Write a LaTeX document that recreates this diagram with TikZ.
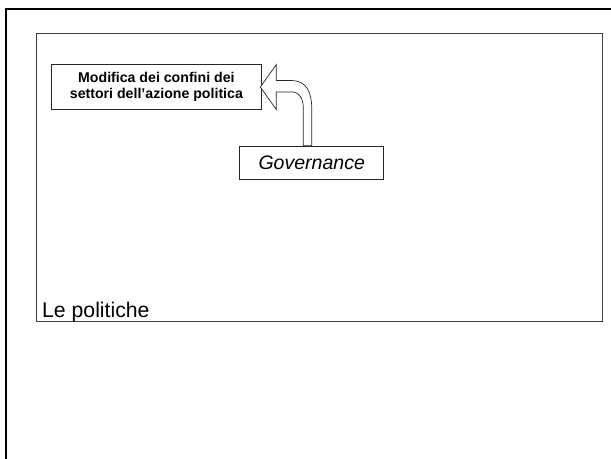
\documentclass[tikz,border=0pt]{standalone}
\usepackage{fontspec}
\setmainfont{Liberation Sans}
\usetikzlibrary{calc}
\begin{document}
\begin{tikzpicture}[x=1bp,y=-1bp,
  boxstyle/.style={draw=black!85, line width=0.8bp, fill=white, inner sep=0pt, align=center},
  framestyle/.style={draw=black!75, line width=1bp, inner sep=0pt},
  arrowshape/.style={draw=black!85, line width=0.7bp, fill=white}
]
\useasboundingbox (0,0) rectangle (611,459);
\draw[line width=2bp] (6,470) -- (6,9) -- (620,9);
\node[framestyle, minimum width=566bp, minimum height=288bp, anchor=north west] (frame) at (35.5,33) {};
\node[anchor=base west, inner sep=0pt, font=\fontsize{21.3}{25}\selectfont] (lab) at (42,317.3) {Le politiche};
\node[boxstyle, minimum width=210bp, minimum height=45.3bp, anchor=north west, font=\bfseries\fontsize{14.2}{15.5}\selectfont] (mod) at (51,64) {Modifica dei confini dei\\settori dell’azione politica};
\node[boxstyle, minimum width=144bp, minimum height=33.6bp, anchor=north west, font=\itshape\fontsize{19.6}{22}\selectfont] (gov) at (239.3,145.7) {Governance};
\coordinate (tip) at ($(mod.east)+(-1.5,0)$);
\draw[arrowshape] (tip) -- ++(16,-22.5) -- ++(0,16) -- ++(15,0)
  .. controls ++(15,0) and ++(0,-16) .. (311.7,108)
  -- (311.7,0 |- gov.north) -- (303.3,0 |- gov.north) -- (303.3,108)
  .. controls ++(0,-8) and ++(10,-1) .. (290,92) -- ($(tip)+(16,5)$) -- ($(tip)+(16,22.5)$) -- cycle;
\end{tikzpicture}
\end{document}
